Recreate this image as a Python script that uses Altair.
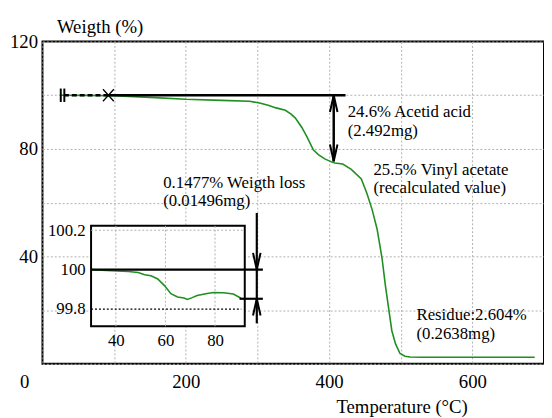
import altair as alt
import pandas as pd

# ---------------- data ----------------
# main TGA curve (temperature °C, weight %)
temp = [25, 60, 99, 150, 200, 250, 289, 303, 315, 326, 339, 347, 353, 362, 369, 378,
        385, 394, 404, 408, 419, 431, 445, 453, 460, 467, 474, 478.5, 483, 487.6,
        492.8, 499, 506, 513, 530, 687]
weight = [100, 99.95, 99.8, 99.2, 98.5, 98.1, 97.8, 97.1, 96.3, 95.3, 94.4, 93.0, 91.5,
          88.0, 84.6, 79.7, 77.9, 76.3, 75.1, 74.8, 74.4, 72.4, 68.8, 63.3, 57.5, 50.2,
          39.2, 29.4, 20.9, 12.3, 7.4, 3.8, 2.8, 2.5, 2.4, 2.4]

# inset (zoom of 30-92 °C)
inset_temp = [30.4, 38.3, 45, 49, 51.6, 54.2, 56.9, 59.6, 62.2, 64.9, 67.5, 68.8, 70.8,
              72.8, 76.8, 79.4, 83.4, 87.4, 90.5]
inset_weight = [100.0, 99.994, 99.991, 99.986, 99.974, 99.969, 99.953, 99.919, 99.878,
                99.861, 99.856, 99.849, 99.858, 99.869, 99.879, 99.884, 99.883, 99.876,
                99.855]

# annotations (main coordinates)
ann_text = ["24.6% Acetid acid", "(2.492mg)", "25.5% Vinyl acetate", "(recalculated value)",
            "0.1477% Weigth loss", "(0.01496mg)", "Residue:2.604%", "(0.2638mg)"]
ann_t = [426, 426, 462, 462, 168.5, 168.5, 522, 522]
ann_w = [91.9, 84.9, 70.3, 63.5, 65.3, 58.6, 16.2, 9.3]

start_w = 100.0          # initial weight line
after_acid_w = 75.4      # after acetic acid loss
solid_line_t = [92, 423]
dashed_line_t = [30, 92]
bar_t = [25.5, 30.5]
bar_w = [97.5, 102.5]
x_marker_t = 92
arrow_t = 406.5

# inset annotations (inset coordinates)
inset_x_domain = [30, 92]
inset_y_domain = [99.7125, 100.2225]
inset_grid_t = [40, 60, 80]
inset_grid_w = 100.2
inset_dot_w = 99.8
inset_dot_t = [30, 90.6]
inset_loss_w = 99.8523
inset_line100_t = [30, 99.3]
inset_lineloss_t = [89.9, 99.3]
inset_arrow_t = 96.85
inset_arrow_w = [99.7275, 100.2875]

FONT = "Liberation Serif, Times New Roman, DejaVu Serif, serif"
GREEN = "#1f8f1f"
GRID = "#b0b0b0"

# ---------------- main scales / axes ----------------
xs = alt.Scale(domain=[0, 700], nice=False, zero=False)
ys = alt.Scale(domain=[0, 120], nice=False, zero=False)

xaxis = alt.Axis(values=list(range(0, 701, 100)),
                 labelExpr="(datum.value % 200 == 0 && datum.value > 0) ? datum.label : ''",
                 grid=True, gridColor=GRID, gridDash=[2, 2], gridWidth=1,
                 ticks=False, domain=False, labelFontSize=19, labelPadding=9.5,
                 labelFlush=False, labelOverlap=False, labelColor="black", labelFont=FONT,
                 title="Temperature (°C)", titleFontSize=19, titleFontWeight="normal",
                 titleX=364.5, titleY=49.5, titleAlign="center", titleBaseline="alphabetic",
                 titleColor="black", titleFont=FONT)
yaxis = alt.Axis(values=list(range(0, 121, 20)),
                 labelExpr="(datum.value % 40 == 0 && datum.value > 0) ? datum.label : ''",
                 grid=True, gridColor=GRID, gridDash=[2, 2], gridWidth=1,
                 ticks=False, domain=False, labelFontSize=19, labelPadding=5,
                 labelOverlap=False, labelColor="black", labelFont=FONT,
                 title="Weigth (%)", titleFontSize=19, titleFontWeight="normal",
                 titleAngle=0, titleX=58, titleY=-9, titleAlign="center",
                 titleBaseline="alphabetic", titleColor="black", titleFont=FONT)


def X(f="T"):
    return alt.X(f + ":Q", scale=xs, axis=xaxis)


def Y(f="W"):
    return alt.Y(f + ":Q", scale=ys, axis=yaxis)


curve = alt.Chart(pd.DataFrame({"T": temp, "W": weight})).mark_line(
    color=GREEN, strokeWidth=1.6).encode(x=X(), y=Y())

solid = alt.Chart(pd.DataFrame({"T": [solid_line_t[0]], "T2": [solid_line_t[1]], "W": [start_w]})
                  ).mark_rule(color="black", strokeWidth=2.5).encode(x=X(), x2="T2:Q", y=Y())
dashed = alt.Chart(pd.DataFrame({"T": [dashed_line_t[0]], "T2": [dashed_line_t[1]], "W": [start_w]})
                   ).mark_rule(color="black", strokeWidth=2.5, strokeDash=[5, 3]).encode(
    x=X(), x2="T2:Q", y=Y())
bars = alt.Chart(pd.DataFrame({"T": bar_t, "W": [bar_w[0]] * 2, "W2": [bar_w[1]] * 2})
                 ).mark_rule(color="black", strokeWidth=2).encode(x=X(), y=Y(), y2="W2:Q")
xmark = alt.Chart(pd.DataFrame({"T": [x_marker_t], "W": [start_w]})).mark_point(
    shape="M-1,-1.1L1,1.1M-1,1.1L1,-1.1", size=121, filled=False, color="black",
    strokeWidth=1.3, opacity=1).encode(x=X(), y=Y())
arrow = alt.Chart(pd.DataFrame({"T": [arrow_t], "W": [after_acid_w], "W2": [start_w]})
                  ).mark_rule(color="black", strokeWidth=2.5).encode(x=X(), y=Y(), y2="W2:Q")
UP = "M-0.45,2L0,0L0.45,2"
DOWN = "M-0.45,-2L0,0L0.45,-2"
head_up = alt.Chart(pd.DataFrame({"T": [arrow_t], "W": [start_w]})).mark_point(
    shape=UP, size=289, filled=False, color="black", strokeWidth=2, opacity=1).encode(x=X(), y=Y())
head_down = alt.Chart(pd.DataFrame({"T": [arrow_t], "W": [after_acid_w]})).mark_point(
    shape=DOWN, size=289, filled=False, color="black", strokeWidth=2, opacity=1).encode(x=X(), y=Y())
texts = alt.Chart(pd.DataFrame({"T": ann_t, "W": ann_w, "label": ann_text})).mark_text(
    align="left", baseline="alphabetic", fontSize=17, font=FONT, color="black").encode(
    x=X(), y=Y(), text="label:N")
zero = alt.Chart(pd.DataFrame({"T": [0], "W": [0], "label": ["0"]})).mark_text(
    align="center", baseline="alphabetic", fontSize=19, font=FONT, color="black",
    dx=-18, dy=24.7).encode(x=X(), y=Y(), text="label:N")

main = alt.layer(curve, solid, dashed, bars, xmark, arrow, head_up, head_down, texts, zero)

# ---------------- inset ----------------
ixs = alt.Scale(domain=inset_x_domain, range=[49.3, 205.3], nice=False, zero=False)
iys = alt.Scale(domain=inset_y_domain, range=[289, 187], nice=False, zero=False)
ixaxis = alt.Axis(orient="bottom", offset=-38, values=inset_grid_t, grid=False, ticks=False,
                  domain=False, labelFontSize=17, labelPadding=6, labelFlush=False,
                  labelOverlap=False, labelColor="black", labelFont=FONT, title=None)
iyaxis = alt.Axis(orient="left", offset=-49.3, values=[99.8, 100, 100.2], format="~f",
                  grid=False, ticks=False, domain=False, labelFontSize=17, labelPadding=6,
                  labelOverlap=False, labelColor="black", labelFont=FONT, title=None)


def IX(f="t"):
    return alt.X(f + ":Q", scale=ixs, axis=ixaxis)


def IY(f="w"):
    return alt.Y(f + ":Q", scale=iys, axis=iyaxis)


box = alt.Chart(pd.DataFrame({"t": [inset_x_domain[0]], "t2": [inset_x_domain[1]],
                              "w": [inset_y_domain[0]], "w2": [inset_y_domain[1]]})).mark_rect(
    fill="white", stroke="black", strokeWidth=2).encode(x=IX(), x2="t2:Q", y=IY(), y2="w2:Q")
igrid_v = alt.Chart(pd.DataFrame({"t": inset_grid_t, "w": [inset_y_domain[0]] * 3,
                                  "w2": [inset_y_domain[1]] * 3})).mark_rule(
    color=GRID, strokeWidth=1, strokeDash=[2, 2]).encode(x=IX(), y=IY(), y2="w2:Q")
igrid_h = alt.Chart(pd.DataFrame({"t": [inset_x_domain[0]], "t2": [inset_x_domain[1]],
                                  "w": [inset_grid_w]})).mark_rule(
    color=GRID, strokeWidth=1, strokeDash=[2, 2]).encode(x=IX(), x2="t2:Q", y=IY())
idot = alt.Chart(pd.DataFrame({"t": [inset_dot_t[0]], "t2": [inset_dot_t[1]],
                               "w": [inset_dot_w]})).mark_rule(
    color="black", strokeWidth=1.3, strokeDash=[2, 2]).encode(x=IX(), x2="t2:Q", y=IY())
icurve = alt.Chart(pd.DataFrame({"t": inset_temp, "w": inset_weight})).mark_line(
    color=GREEN, strokeWidth=1.6).encode(x=IX(), y=IY())
iline100 = alt.Chart(pd.DataFrame({"t": [inset_line100_t[0]], "t2": [inset_line100_t[1]],
                                   "w": [start_w]})).mark_rule(
    color="black", strokeWidth=2.2).encode(x=IX(), x2="t2:Q", y=IY())
ilineloss = alt.Chart(pd.DataFrame({"t": [inset_lineloss_t[0]], "t2": [inset_lineloss_t[1]],
                                    "w": [inset_loss_w]})).mark_rule(
    color="black", strokeWidth=2.2).encode(x=IX(), x2="t2:Q", y=IY())
iarrow = alt.Chart(pd.DataFrame({"t": [inset_arrow_t], "w": [inset_arrow_w[0]],
                                 "w2": [inset_arrow_w[1]]})).mark_rule(
    color="black", strokeWidth=2.2).encode(x=IX(), y=IY(), y2="w2:Q")
ihead_down = alt.Chart(pd.DataFrame({"t": [inset_arrow_t], "w": [start_w]})).mark_point(
    shape=DOWN, size=289, filled=False, color="black", strokeWidth=2, opacity=1).encode(x=IX(), y=IY())
ihead_up = alt.Chart(pd.DataFrame({"t": [inset_arrow_t], "w": [inset_loss_w]})).mark_point(
    shape=UP, size=289, filled=False, color="black", strokeWidth=2, opacity=1).encode(x=IX(), y=IY())

inset = alt.layer(box, igrid_v, igrid_h, idot, icurve, iline100, ilineloss, iarrow,
                  ihead_down, ihead_up)

chart = alt.layer(main, inset).resolve_scale(x="independent", y="independent").properties(
    width=509, height=327,
    padding={"left": 35, "top": 31, "right": 0, "bottom": 52},
    autosize=alt.AutoSizeParams(type="none"),
    background="white",
).configure_view(stroke="black", strokeWidth=2).configure_axis(
    labelFont=FONT, titleFont=FONT).configure_text(font=FONT)

chart.save("out.html", embed_options={"renderer": "svg", "actions": False})
